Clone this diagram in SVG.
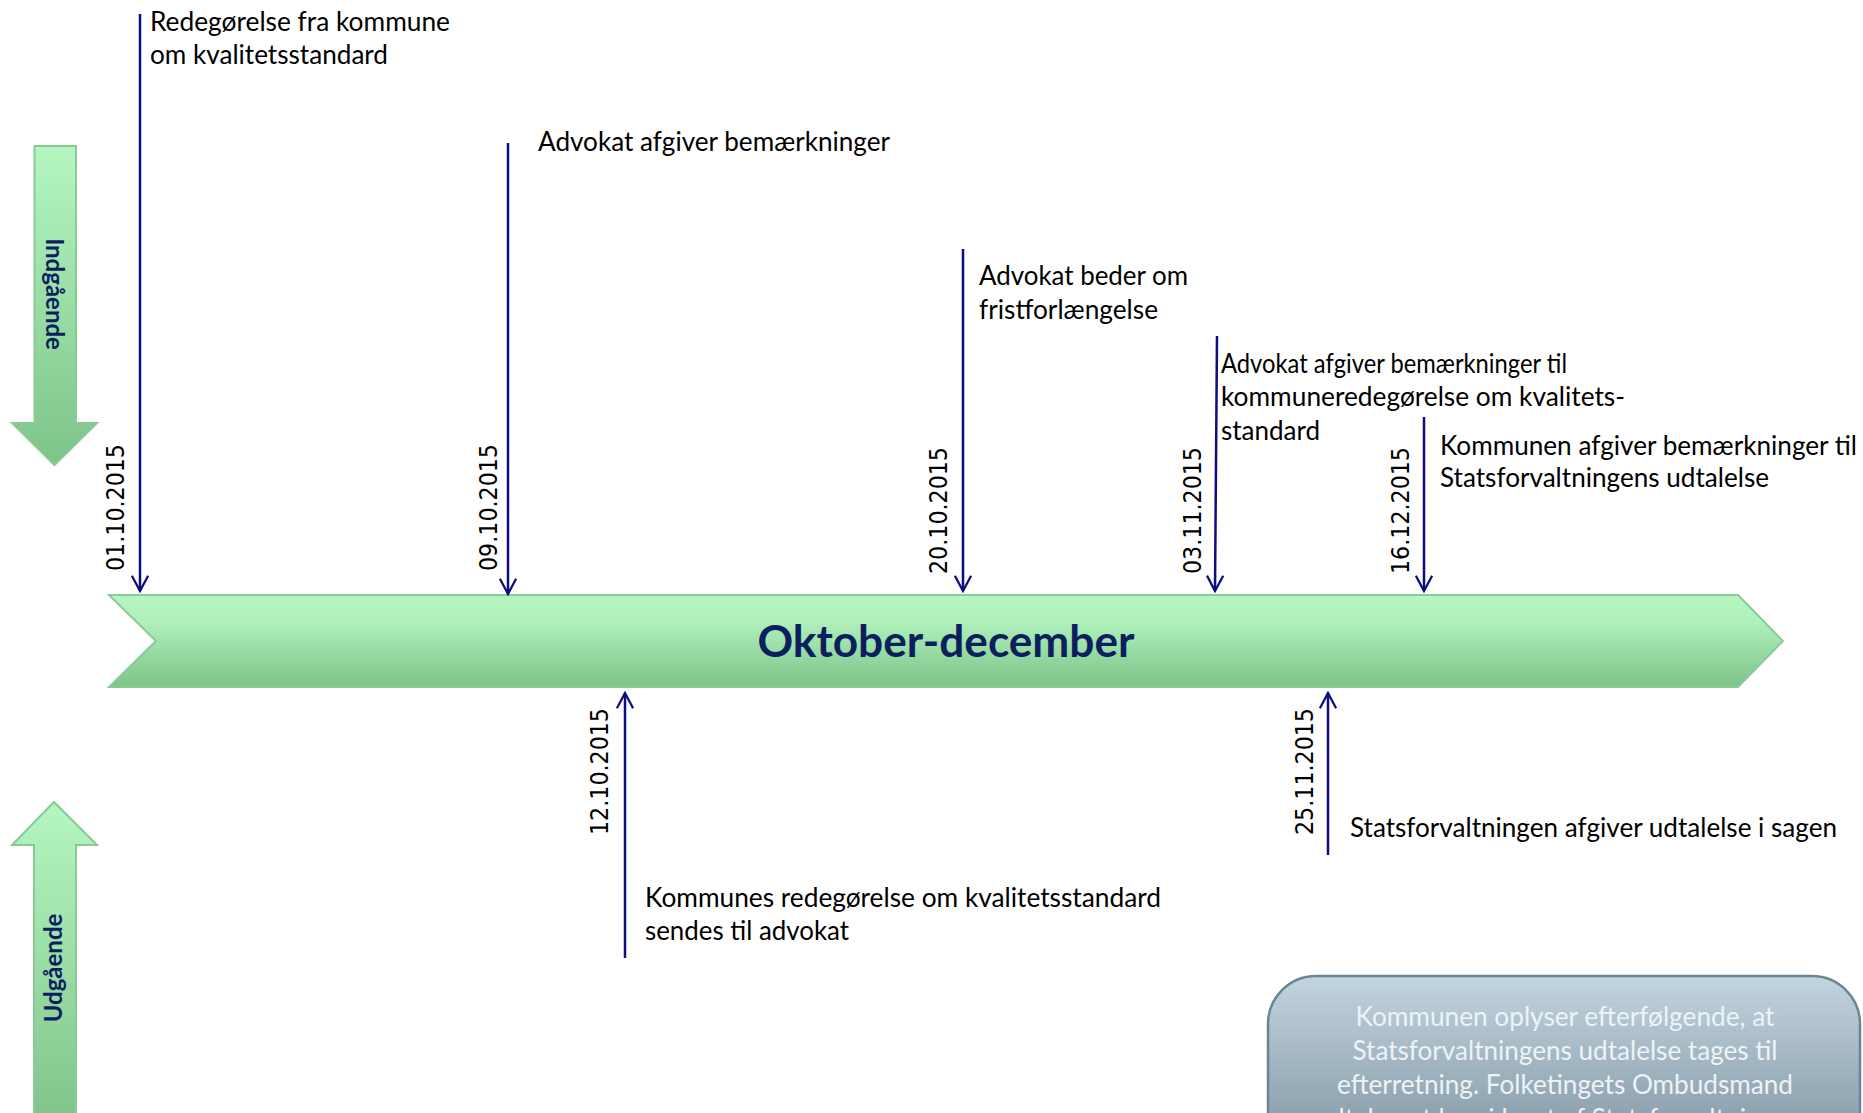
<svg xmlns="http://www.w3.org/2000/svg" width="1863" height="1113" viewBox="0 0 1863 1113">
<defs>
<linearGradient id="gBanner" x1="0" y1="0" x2="0" y2="1">
<stop offset="0" stop-color="#B5F6C1"/>
<stop offset="0.3" stop-color="#AEEFBA"/>
<stop offset="1" stop-color="#7DC489"/>
</linearGradient>
<linearGradient id="gDown" x1="0" y1="0" x2="0" y2="1">
<stop offset="0" stop-color="#B5F6C1"/>
<stop offset="1" stop-color="#7DC489"/>
</linearGradient>
<linearGradient id="gUp" gradientUnits="userSpaceOnUse" x1="0" y1="802" x2="0" y2="1113">
<stop offset="0" stop-color="#B5F6C1"/>
<stop offset="1" stop-color="#80C68C"/>
</linearGradient>
<linearGradient id="gBox" gradientUnits="userSpaceOnUse" x1="0" y1="976" x2="0" y2="1113">
<stop offset="0" stop-color="#C2D4DF"/>
<stop offset="1" stop-color="#8FA3B0"/>
</linearGradient>
<marker id="ah" viewBox="0 0 20 20" refX="18" refY="10" markerWidth="18" markerHeight="20" markerUnits="userSpaceOnUse" orient="auto">
<path d="M1,1 L18,10 L1,19" fill="none" stroke="#0d0d80" stroke-width="2.5"/>
</marker>
</defs>
<style>
.conn{stroke:#0d0d80;stroke-width:2.5;fill:none;marker-end:url(#ah)}
.lbl{font-family:Lato,"Open Sans","Liberation Sans",sans-serif;font-size:26px;fill:#000}
.date{font-family:"DejaVu Sans Condensed","DejaVu Sans",sans-serif;font-stretch:condensed;font-size:25px;fill:#000}
.shape{fill:url(#gDown);stroke:#8BC995;stroke-width:2}
.side{font-family:Lato,"Open Sans","Liberation Sans",sans-serif;font-weight:bold;font-size:24px;fill:#0B1F5E;text-anchor:middle}
.boxt{font-family:Lato,"Open Sans","Liberation Sans",sans-serif;font-size:26px;fill:#EEF3F6;text-anchor:middle}
</style>
<rect width="1863" height="1113" fill="#fff"/>

<g id="indgaaende">
<path class="shape" d="M34.5,146 L76,146 L76,423 L97,423 L54.5,465 L12,423 L34.5,423 Z"/>
<text class="side" transform="translate(46,294) rotate(90)">Indgående</text>
</g>

<g id="udgaaende">
<path d="M54,802 L97,845 L76,845 L76,1120 L34,1120 L34,845 L12,845 Z" fill="url(#gUp)" stroke="#8BC995" stroke-width="2"/>
<text class="side" transform="translate(62,968) rotate(-90)">Udgående</text>
</g>

<g id="banner">
<path d="M109,595 L1738,595 L1783,641 L1738,687 L109,687 L156,641 Z" fill="url(#gBanner)" stroke="#8BC995" stroke-width="2"/>
<text x="946" y="657" text-anchor="middle" font-family="Lato,'Open Sans','Liberation Sans',sans-serif" font-weight="bold" font-size="43" fill="#0B1F5E" textLength="377" lengthAdjust="spacingAndGlyphs">Oktober-december</text>
</g>

<g id="connectors">
<line class="conn" x1="140" y1="14" x2="140" y2="591"/>
<line class="conn" x1="508" y1="143" x2="508" y2="594"/>
<line class="conn" x1="963" y1="249" x2="963" y2="591"/>
<line class="conn" x1="1217" y1="336" x2="1215" y2="591"/>
<line class="conn" x1="1424" y1="417" x2="1424" y2="591"/>
<line class="conn" x1="625" y1="958" x2="625" y2="693"/>
<line class="conn" x1="1328" y1="855" x2="1328" y2="693"/>
</g>

<g id="ev-0110">
<text class="date" transform="translate(124,571) rotate(-90)" textLength="127" lengthAdjust="spacingAndGlyphs">01.10.2015</text>
<text class="lbl" x="150" y="31" textLength="300" lengthAdjust="spacingAndGlyphs">Redegørelse fra kommune</text>
<text class="lbl" x="150" y="64" textLength="238" lengthAdjust="spacingAndGlyphs">om kvalitetsstandard</text>
</g>

<g id="ev-0910">
<text class="date" transform="translate(497,571) rotate(-90)" textLength="127" lengthAdjust="spacingAndGlyphs">09.10.2015</text>
<text class="lbl" x="538" y="151" textLength="352" lengthAdjust="spacingAndGlyphs">Advokat afgiver bemærkninger</text>
</g>

<g id="ev-1210">
<text class="date" transform="translate(608,835) rotate(-90)" textLength="127" lengthAdjust="spacingAndGlyphs">12.10.2015</text>
<text class="lbl" x="645" y="907" textLength="516" lengthAdjust="spacingAndGlyphs">Kommunes redegørelse om kvalitetsstandard</text>
<text class="lbl" x="645" y="940" textLength="204" lengthAdjust="spacingAndGlyphs">sendes til advokat</text>
</g>

<g id="ev-2010">
<text class="date" transform="translate(947,574) rotate(-90)" textLength="127" lengthAdjust="spacingAndGlyphs">20.10.2015</text>
<text class="lbl" x="979" y="285" textLength="209" lengthAdjust="spacingAndGlyphs">Advokat beder om</text>
<text class="lbl" x="979" y="319" textLength="179" lengthAdjust="spacingAndGlyphs">fristforlængelse</text>
</g>

<g id="ev-0311">
<text class="date" transform="translate(1201,574) rotate(-90)" textLength="127" lengthAdjust="spacingAndGlyphs">03.11.2015</text>
<text class="lbl" x="1221" y="373" textLength="346" lengthAdjust="spacingAndGlyphs">Advokat afgiver bemærkninger til</text>
<text class="lbl" x="1221" y="406" textLength="404" lengthAdjust="spacingAndGlyphs">kommuneredegørelse om kvalitets-</text>
<text class="lbl" x="1221" y="440" textLength="99" lengthAdjust="spacingAndGlyphs">standard</text>
</g>

<g id="ev-2511">
<text class="date" transform="translate(1313,835) rotate(-90)" textLength="127" lengthAdjust="spacingAndGlyphs">25.11.2015</text>
<text class="lbl" x="1350" y="837" textLength="487" lengthAdjust="spacingAndGlyphs">Statsforvaltningen afgiver udtalelse i sagen</text>
</g>

<g id="ev-1612">
<text class="date" transform="translate(1409,574) rotate(-90)" textLength="127" lengthAdjust="spacingAndGlyphs">16.12.2015</text>
<text class="lbl" x="1440" y="455" textLength="417" lengthAdjust="spacingAndGlyphs">Kommunen afgiver bemærkninger til</text>
<text class="lbl" x="1440" y="487" textLength="329" lengthAdjust="spacingAndGlyphs">Statsforvaltningens udtalelse</text>
</g>

<g id="note">
<rect x="1268" y="976" width="592" height="300" rx="48" ry="48" fill="url(#gBox)" stroke="#6D8592" stroke-width="2.5"/>
<text class="boxt" x="1565" y="1026" textLength="419" lengthAdjust="spacingAndGlyphs">Kommunen oplyser efterfølgende, at</text>
<text class="boxt" x="1565" y="1060" textLength="425" lengthAdjust="spacingAndGlyphs">Statsforvaltningens udtalelse tages til</text>
<text class="boxt" x="1565" y="1094" textLength="456" lengthAdjust="spacingAndGlyphs">efterretning. Folketingets Ombudsmand</text>
<text class="boxt" x="1565" y="1128" textLength="500" lengthAdjust="spacingAndGlyphs">udtaler, at han i lyset af Statsforvaltningens</text>
</g>
</svg>
